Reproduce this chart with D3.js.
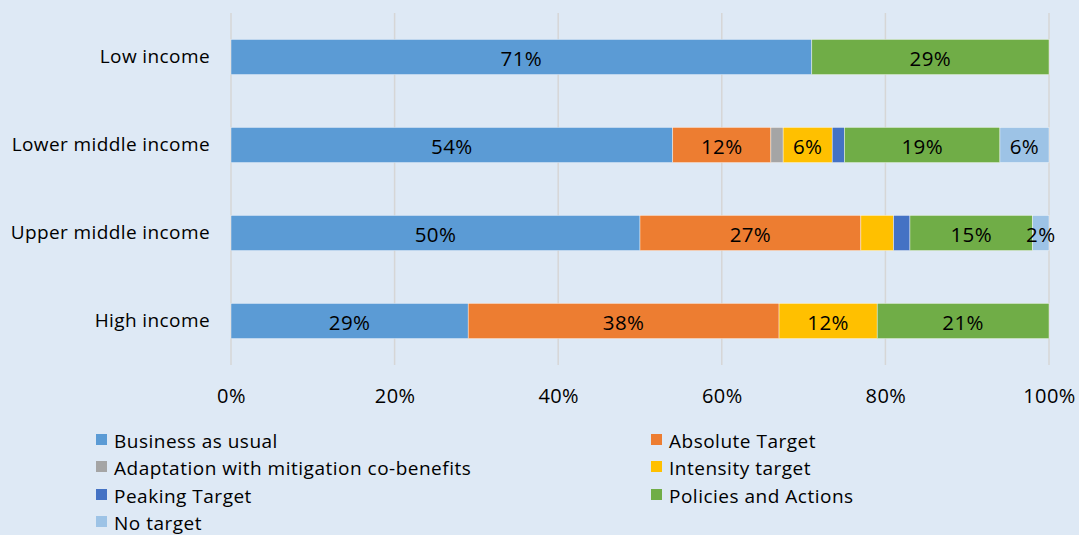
<!DOCTYPE html>
<html>
<head>
<meta charset="utf-8">
<script src="https://cdn.jsdelivr.net/npm/d3@7"></script>
<style>
  html, body { margin: 0; padding: 0; background: #dee9f5; }
  svg { display: block; }
  text { font-family: "Open Sans", Lato, sans-serif; fill: #000; }
</style>
</head>
<body>
<svg id="chart" width="1079" height="535"></svg>
<script>
// Income groups, top to bottom
const categories = ["Low income", "Lower middle income", "Upper middle income", "High income"];

// Target types, in stacking order
const seriesNames = [
  "Business as usual",
  "Absolute Target",
  "Adaptation with mitigation co-benefits",
  "Intensity target",
  "Peaking Target",
  "Policies and Actions",
  "No target"
];
const seriesColors = ["#5b9bd5", "#ed7d31", "#a5a5a5", "#ffc000", "#4472c4", "#70ad47", "#9dc3e6"];

// Share of countries (%) per income group, one array per target type
const businessAsUsual = [71, 54, 50, 29];
const absoluteTarget  = [0, 12, 27, 38];
const adaptation      = [0, 1.5, 0, 0];
const intensityTarget = [0, 6, 4, 12];
const peakingTarget   = [0, 1.5, 2, 0];
const policiesActions = [29, 19, 15, 21];
const noTarget        = [0, 6, 2, 0];

// Which segments carry a percentage label
const showLabel = [
  [true, true, true, true],
  [false, true, true, true],
  [false, false, false, false],
  [false, true, false, true],
  [false, false, false, false],
  [true, true, true, true],
  [false, true, true, false]
];

const xTicks = [0, 20, 40, 60, 80, 100];

const seriesValues = [businessAsUsual, absoluteTarget, adaptation, intensityTarget,
                      peakingTarget, policiesActions, noTarget];

const rows = categories.map((c, i) => {
  const r = { category: c };
  seriesNames.forEach((s, j) => { r[s] = seriesValues[j][i]; });
  return r;
});

const layers = d3.stack().keys(seriesNames)(rows);

const svg = d3.select("#chart");
const plot = { left: 231, right: 1049, top: 13, bottom: 365 };

const x = d3.scaleLinear().domain([0, 100]).range([plot.left, plot.right]);
const y = d3.scaleBand().domain(categories).range([plot.top, plot.bottom])
  .paddingInner(0.6).paddingOuter(0.3);

// Vertical gridlines
svg.append("g").selectAll("line").data(xTicks).join("line")
  .attr("x1", d => x(d)).attr("x2", d => x(d))
  .attr("y1", plot.top).attr("y2", plot.bottom)
  .attr("stroke", "#d6d6d6").attr("stroke-width", 1.5);

// Stacked bars
const layerG = svg.append("g").selectAll("g").data(layers).join("g")
  .attr("fill", (d, i) => seriesColors[i]);

layerG.selectAll("rect").data(d => d.map(p => p)).join("rect")
  .attr("x", d => x(d[0]))
  .attr("width", d => x(d[1]) - x(d[0]))
  .attr("y", d => y(d.data.category))
  .attr("height", y.bandwidth())
  .attr("stroke", "#ffffff").attr("stroke-width", 0.6).attr("stroke-opacity", 0.7);

// Segment labels
layers.forEach((layer, si) => {
  layer.forEach((p, ci) => {
    if (!showLabel[si][ci]) return;
    const v = p[1] - p[0];
    svg.append("text")
      .attr("x", (x(p[0]) + x(p[1])) / 2)
      .attr("y", y(p.data.category) + y.bandwidth() / 2 + 1)
      .attr("text-anchor", "middle")
      .attr("dominant-baseline", "central")
      .attr("font-size", 20.5)
      .attr("letter-spacing", 0.4)
      .text(Math.round(v) + "%");
  });
});

// Category axis labels
const yAxis = d3.axisLeft(y).tickSize(0).tickPadding(21);
const yG = svg.append("g").attr("transform", `translate(${plot.left},0)`).call(yAxis);
yG.select(".domain").remove();
yG.selectAll("text").attr("font-size", 19).attr("letter-spacing", 0.4)
  .attr("font-family", "'Open Sans', sans-serif").attr("fill", "#000");

// Percentage axis labels
const xAxis = d3.axisBottom(x).tickValues(xTicks).tickSize(0).tickPadding(24).tickFormat(d => d + "%");
const xG = svg.append("g").attr("transform", `translate(0,${plot.bottom})`).call(xAxis);
xG.select(".domain").remove();
xG.selectAll("text").attr("font-size", 20).attr("letter-spacing", 0.4)
  .attr("font-family", "'Open Sans', sans-serif").attr("fill", "#000");

// Legend, two columns
const legendCols = [102, 657];
const legendRows = [440, 467, 495, 522];
const lg = svg.append("g").selectAll("g").data(seriesNames).join("g")
  .attr("transform", (d, i) => `translate(${legendCols[i % 2]},${legendRows[Math.floor(i / 2)]})`);
lg.append("rect").attr("x", -6).attr("y", -6).attr("width", 11).attr("height", 11)
  .attr("fill", (d, i) => seriesColors[i]);
lg.append("text").attr("x", 12).attr("y", 1).attr("dominant-baseline", "central")
  .attr("font-size", 19).attr("letter-spacing", 0.5).text(d => d);
</script>
</body>
</html>
